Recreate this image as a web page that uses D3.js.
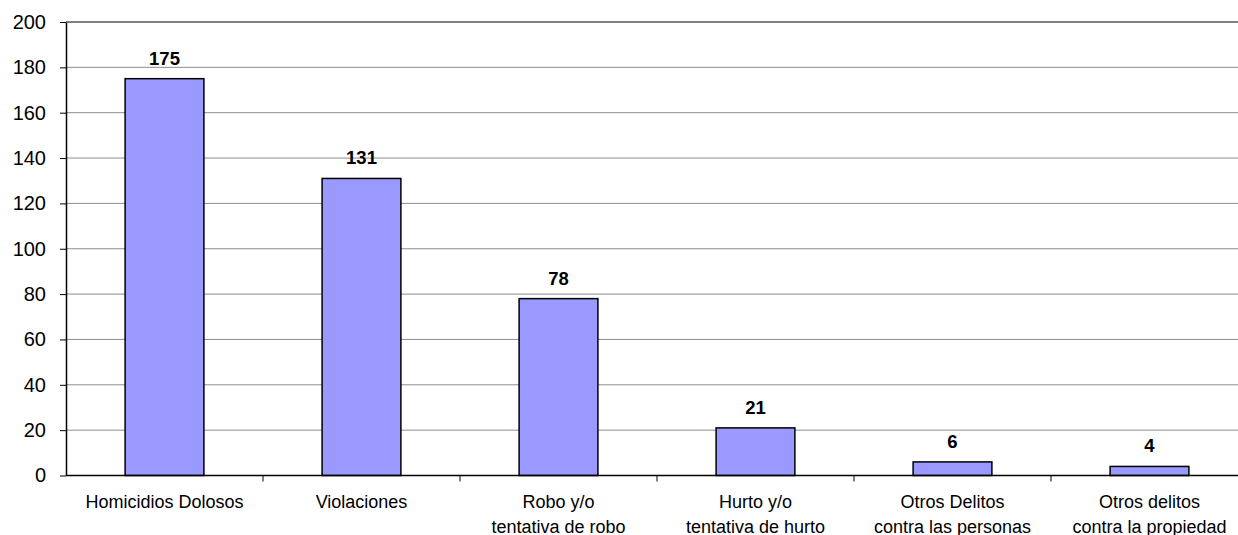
<!DOCTYPE html>
<html>
<head>
<meta charset="utf-8">
<script src="https://cdn.jsdelivr.net/npm/d3@7"></script>
<style>
  body { margin: 0; background: #fff; overflow: hidden; }
  svg { display: block; font-family: "Liberation Sans", Arial, sans-serif; }
</style>
</head>
<body>
<svg id="chart"></svg>
<script>
// category labels (split into lines) and counts
const categories = [
  ['Homicidios Dolosos'],
  ['Violaciones'],
  ['Robo y/o', 'tentativa de robo'],
  ['Hurto y/o', 'tentativa de hurto'],
  ['Otros Delitos', 'contra las personas'],
  ['Otros delitos', 'contra la propiedad']
];
const counts = [175, 131, 78, 21, 6, 4];
const yTicks = [0, 20, 40, 60, 80, 100, 120, 140, 160, 180, 200];

const width = 1238;
const height = 535;
const margin = { top: 22, right: -10, bottom: 59.5, left: 66 }; // plot runs past the right edge

const svg = d3.select('#chart')
  .attr('width', width)
  .attr('height', height);

const keys = categories.map((d) => d.join(' '));

const x = d3
  .scaleBand()
  .domain(keys)
  .range([margin.left, width - margin.right])
  .paddingInner(0.6)
  .paddingOuter(0.3);

const y = d3
  .scaleLinear()
  .domain([0, 200])
  .range([height - margin.bottom, margin.top]);

// gridlines
svg
  .append('g')
  .selectAll('line')
  .data(yTicks.filter((d) => d > 0))
  .join('line')
  .attr('x1', margin.left)
  .attr('x2', width - margin.right)
  .attr('y1', (d) => y(d))
  .attr('y2', (d) => y(d))
  .attr('stroke', (d) => (d === 200 ? '#808080' : '#8c8c8c'))
  .attr('stroke-width', (d) => (d === 200 ? 2 : 1));

// y axis
const yAxis = svg
  .append('g')
  .attr('transform', `translate(${margin.left},0)`)
  .call(d3.axisLeft(y).tickValues(yTicks).tickSize(6).tickSizeOuter(0).tickPadding(14));
yAxis.select('.domain').attr('stroke', '#000').attr('stroke-width', 1.5);
yAxis.selectAll('.tick line').attr('stroke', '#000');
yAxis.selectAll('text').attr('font-size', '20px').attr('fill', '#000')
  .attr('font-family', '"Liberation Sans", Arial, sans-serif');

// bars
svg
  .selectAll('.bar')
  .data(counts)
  .join('rect')
  .attr('class', 'bar')
  .attr('x', (d, i) => x(keys[i]))
  .attr('y', (d) => y(d))
  .attr('width', x.bandwidth())
  .attr('height', (d) => y(0) - y(d))
  .attr('fill', '#9999ff')
  .attr('stroke', '#000')
  .attr('stroke-width', 1.5);

// x axis (ticks between categories)
const x0 = y(0);
svg
  .append('line')
  .attr('x1', margin.left)
  .attr('x2', width - margin.right)
  .attr('y1', x0)
  .attr('y2', x0)
  .attr('stroke', '#000')
  .attr('stroke-width', 1.5);

const step = x.step();
svg
  .append('g')
  .selectAll('line')
  .data(keys.slice(1))
  .join('line')
  .attr('x1', (d) => x(d) - x.paddingOuter() * step)
  .attr('x2', (d) => x(d) - x.paddingOuter() * step)
  .attr('y1', x0)
  .attr('y2', x0 + 6)
  .attr('stroke', '#000');

// category labels
svg
  .append('g')
  .selectAll('text')
  .data(categories)
  .join('text')
  .attr('text-anchor', 'middle')
  .attr('font-size', '18px')
  .attr('fill', '#000')
  .each(function (lines, i) {
    const cx = x(keys[i]) + x.bandwidth() / 2;
    d3.select(this)
      .selectAll('tspan')
      .data(lines)
      .join('tspan')
      .attr('x', cx)
      .attr('y', (d, j) => 508 + j * 24.5)
      .text((d) => d);
  });

// value labels
svg
  .append('g')
  .selectAll('text')
  .data(counts)
  .join('text')
  .attr('x', (d, i) => x(keys[i]) + x.bandwidth() / 2)
  .attr('y', (d) => y(d) - 14)
  .attr('text-anchor', 'middle')
  .attr('font-size', '18.5px')
  .attr('font-weight', 'bold')
  .attr('fill', '#000')
  .text((d) => d);
</script>
</body>
</html>
